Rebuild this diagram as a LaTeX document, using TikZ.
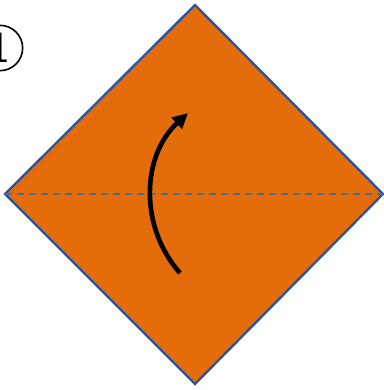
\documentclass[tikz,border=0pt]{standalone}
\usetikzlibrary{arrows.meta}
\definecolor{paper}{HTML}{E46C0A}
\definecolor{edge}{HTML}{2F5597}
\definecolor{fold}{HTML}{41719C}
\tikzset{
  sheet/.style={fill=paper, draw=edge, line width=1.8pt, line join=miter},
  foldline/.style={draw=fold, line width=1.6pt, dash pattern=on 5.5pt off 3.5pt},
  turn/.style={draw=black, line width=3.5pt, -{Triangle[length=11.5pt,width=11pt]}},
  stepcircle/.style={draw=black, line width=1.2pt, circle, minimum size=34pt, inner sep=0pt}
}
\begin{document}
\begin{tikzpicture}[x=0.75pt,y=-0.75pt]
\useasboundingbox (0,0) rectangle (384,390);
\coordinate (T) at (195,5);
\coordinate (R) at (383,194);
\coordinate (B) at (195,384);
\coordinate (L) at (5,194);
\path[sheet] (T) -- (R) -- (B) -- (L) -- cycle;
\path[foldline] (L) -- (R);
\coordinate (a0) at (180,273);
\coordinate (a1) at (188,113);
\draw[turn] (a0) .. controls (138.8,226.4) and (141.7,155.6) .. (a1);
\node[stepcircle] (num) at (0,48) {};
\node[font=\sffamily\fontsize{33}{33}\selectfont, inner sep=0pt] (numtext) at (num.center) {1};
\end{tikzpicture}
\end{document}
